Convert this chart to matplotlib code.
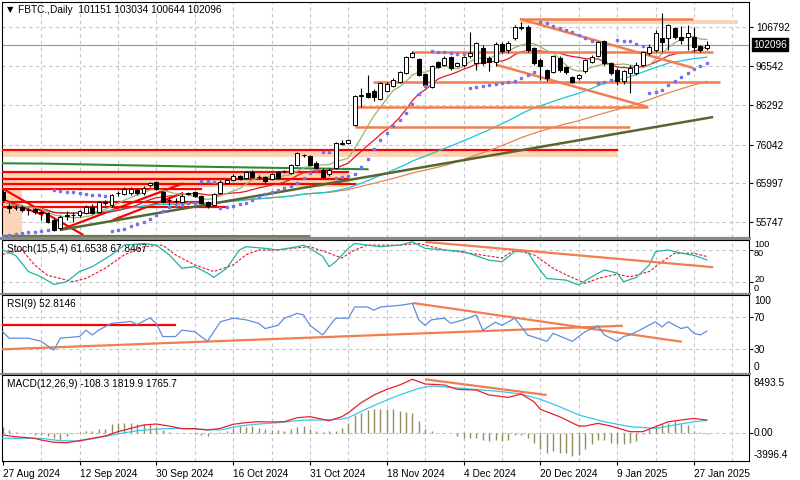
import numpy as np
import pandas as pd
import matplotlib
matplotlib.use("Agg")
import matplotlib.pyplot as plt
from matplotlib.patches import Rectangle

plt.rcParams["font.family"] = ["Liberation Sans", "DejaVu Sans"]
plt.rcParams["font.size"] = 7.3

W, H = 800, 480

# ---- data ----
date_labels = ["27 Aug 2024", "12 Sep 2024", "30 Sep 2024", "16 Oct 2024", "31 Oct 2024",
               "18 Nov 2024", "4 Dec 2024", "20 Dec 2024", "9 Jan 2025", "27 Jan 2025"]
label_bars = [0, 12, 24, 36, 48, 60, 72, 84, 96, 108]

# daily candles, thousands
opens = [63.7, 60.0, 59.5, 59.8, 59.0, 59.2, 58.4, 58.2, 56.4, 54.3,
         57.5, 57.7, 57.7, 58.2, 59.8, 58.5, 61.0, 60.3, 63.3, 63.2,
         63.4, 64.2, 63.4, 65.5, 66.3, 63.7, 61.6, 61.4, 61.1, 63.2,
         63.7, 62.6, 61.1, 60.3, 63.4, 66.0, 66.8, 67.9, 67.3, 68.9,
         67.6, 67.6, 67.1, 68.9, 69.2, 68.6, 70.7, 73.3, 73.1, 71.3,
         69.4, 68.4, 69.9, 76.3, 76.5, 81.2, 88.7, 89.5, 90.0, 87.9,
         90.0, 91.3, 92.4, 94.7, 98.9, 98.4, 94.5, 91.1, 97.6, 96.8,
         98.9, 96.6, 96.8, 99.2, 97.3, 101.2, 98.6, 97.6, 102.3, 100.7,
         103.8, 106.5, 106.7, 101.2, 98.1, 95.5, 95.0, 98.6, 96.3, 93.7,
         93.4, 95.2, 97.6, 99.2, 103.0, 97.4, 95.5, 92.6, 94.7, 94.7,
         96.8, 100.0, 100.7, 103.9, 103.8, 106.4, 104.2, 104.2, 104.2, 101.8, 101.151]
highs = [64.2, 60.5, 60.3, 60.2, 59.5, 59.6, 58.7, 58.5, 56.9, 57.6,
         58.7, 58.5, 59.0, 60.3, 60.5, 61.3, 61.6, 63.2, 64.0, 64.9,
         64.9, 64.6, 65.2, 66.4, 66.6, 64.0, 62.4, 62.0, 63.2, 63.8,
         64.0, 62.9, 61.3, 63.4, 66.8, 67.1, 68.3, 68.1, 69.2, 69.4,
         68.1, 67.9, 68.7, 69.2, 69.5, 71.0, 74.2, 73.6, 73.3, 71.8,
         69.9, 69.9, 76.7, 77.2, 77.5, 89.0, 90.8, 94.2, 90.5, 92.4,
         92.3, 93.4, 95.3, 99.2, 100.5, 98.6, 94.7, 96.8, 97.8, 99.2,
         99.2, 97.6, 99.2, 105.4, 102.8, 102.0, 99.2, 102.8, 102.8, 103.1,
         107.2, 108.0, 107.2, 101.5, 98.6, 95.8, 99.4, 99.2, 96.5, 93.9,
         94.5, 98.4, 99.4, 103.1, 103.4, 97.6, 96.0, 95.5, 96.8, 97.6,
         100.5, 102.3, 106.0, 110.4, 107.5, 106.7, 107.0, 107.2, 106.7, 102.0, 103.034]
lows = [61.0, 58.2, 58.9, 58.5, 57.7, 58.0, 56.4, 55.6, 53.5, 53.9,
        56.4, 55.9, 57.2, 57.9, 57.9, 58.2, 60.3, 59.8, 62.6, 62.9,
        63.0, 63.0, 63.0, 65.0, 64.2, 60.8, 60.3, 60.8, 60.8, 62.9,
        62.4, 60.5, 59.5, 60.0, 63.2, 65.8, 66.5, 66.8, 67.1, 67.3,
        67.1, 66.0, 66.8, 67.1, 68.6, 68.4, 70.5, 72.8, 70.4, 69.5,
        67.3, 67.9, 69.7, 75.9, 76.2, 81.0, 85.8, 88.2, 87.4, 87.7,
        89.8, 91.1, 92.1, 94.5, 98.6, 93.9, 91.3, 90.8, 96.0, 96.5,
        95.5, 96.3, 96.3, 98.6, 95.5, 96.8, 95.2, 96.5, 99.9, 99.9,
        103.3, 105.9, 100.2, 96.8, 92.9, 92.6, 94.7, 95.0, 94.5, 92.1,
        92.9, 94.7, 97.3, 98.9, 96.8, 94.2, 91.6, 91.8, 89.5, 94.2,
        96.5, 99.4, 100.2, 100.3, 100.7, 103.6, 102.3, 100.7, 100.3, 100.2, 100.644]
closes = [61.6, 59.5, 59.6, 59.0, 59.1, 58.5, 58.2, 55.9, 53.8, 57.2,
          57.7, 57.6, 58.7, 59.8, 58.2, 61.1, 60.8, 62.9, 63.5, 64.5,
          64.5, 63.4, 64.7, 66.0, 64.5, 61.1, 61.7, 61.3, 62.6, 63.4,
          62.6, 60.8, 60.0, 63.2, 66.3, 66.8, 67.9, 67.1, 68.9, 67.6,
          67.7, 66.6, 68.4, 67.3, 69.1, 70.7, 73.9, 73.4, 70.7, 69.9,
          67.6, 69.4, 76.5, 76.5, 77.2, 88.7, 88.9, 88.5, 88.5, 92.1,
          91.8, 92.9, 95.0, 98.9, 99.9, 94.2, 91.6, 96.5, 96.3, 98.6,
          96.0, 97.3, 98.9, 99.9, 102.5, 97.3, 97.6, 102.3, 100.5, 102.5,
          106.7, 106.7, 100.7, 97.3, 96.5, 93.4, 99.2, 95.5, 95.0, 92.4,
          94.2, 98.1, 98.9, 102.8, 97.2, 94.6, 92.7, 95.2, 96.0, 96.8,
          100.2, 101.5, 105.2, 102.9, 107.2, 104.2, 103.3, 105.1, 101.6, 100.7, 102.096]

price_ticks = [106792, 96542, 86292, 76042, 65997, 55747]
last_price = 102096
sar_start = 52.2  # first SAR dot, thousands

# chart objects: (bar0, bar1, price in thousands)
red_levels = [(-1, 96, 74.51), (-1, 54, 68.82), (-1, 54, 67.0), (-1, 55, 65.77),
              (-1, 31, 64.39), (-1, 31, 61.16), (-1, 35, 59.85)]
# (bar0, bar1, low, high)
zones = [(-1, 96, 72.81, 74.38), (-1, 54, 65.07, 68.56), (-1, 3, 52.03, 64.21),
         (80.8, 114.9, 107.50, 108.54)]
red_trends = [(-0.1, 64.65, 12.6, 52.47), (8.95, 53.78, 28.2, 65.95),
              (17.2, 56.38, 28.2, 63.43), (-0.1, 61.78, 6.3, 57.68)]
orange_trends = [(80.8, 108.80, 107.9, 108.80), (64, 100.28, 111, 100.28),
                 (57.9, 92.45, 112.1, 92.45), (55.4, 85.93, 100.8, 85.93),
                 (55, 80.71, 98, 80.71), (80.8, 108.80, 107.9, 96.02),
                 (77.2, 96.81, 100.8, 85.85)]
green_bars = [-0.1, 6.9, 30.8, 57.0]
green_prices = [71.17, 71.07, 70.28, 69.61]
olive_trend = (8.95, 53.78, 111, 83.24)
olive_floor = (-0.1, 52.2, 48, 52.1)

# Stochastic(15,5,4)
stoch_k_bars = [0, 2, 4, 6, 8, 10, 12, 14, 17, 19, 22, 24, 26, 28, 30, 32, 33, 35, 37, 38,
                41, 43, 46, 47, 48, 50, 51, 52, 54, 55, 57, 59, 62, 64, 66, 69, 72, 76, 78, 80,
                82, 83, 85, 88, 90, 92, 94, 96, 97, 99, 101, 102, 104, 106, 108, 110]
stoch_k = [80, 70, 40, 30, 16, 21, 40, 49, 71, 89, 92, 89, 71, 46, 49, 37, 29, 46, 80, 86,
           83, 80, 86, 89, 83, 68, 49, 58, 83, 92, 89, 86, 89, 95, 83, 80, 77, 61, 58, 77,
           77, 58, 27, 24, 15, 30, 43, 37, 21, 29, 52, 77, 80, 74, 70, 61.65]
stoch_d_bars = [0, 3, 5, 7, 11, 13, 16, 19, 22, 25, 27, 30, 33, 36, 38, 40, 43, 45, 48, 51,
                53, 55, 57, 62, 65, 69, 73, 78, 80, 83, 86, 88, 91, 93, 96, 98, 101, 103, 105,
                108, 110]
stoch_d = [72, 80, 52, 33, 21, 27, 46, 71, 86, 89, 71, 52, 40, 52, 71, 80, 80, 83, 86, 74,
           65, 80, 89, 89, 92, 80, 74, 65, 80, 71, 46, 34, 18, 27, 35, 30, 40, 58, 74,
           74, 67.85]
stoch_trend = (66, 95, 111, 48)

# RSI(9)
rsi_bars = [0, 1, 4, 6, 8, 9, 12, 13, 14, 15, 17, 19, 20, 21, 23, 24, 25, 27, 28, 30,
            32, 34, 36, 38, 40, 41, 43, 44, 46, 47, 48, 50, 52, 54, 55, 57, 58, 59, 62, 64,
            65, 66, 67, 69, 70, 72, 74, 75, 77, 78, 80, 82, 85, 86, 89, 91, 93, 94, 96, 97,
            98, 100, 102, 103, 104, 106, 107, 108, 109, 110]
rsi = [52, 44, 44, 40, 29, 44, 46, 54, 48, 54, 62.5, 64, 65, 61, 69.5, 62.5, 46, 46, 54, 52,
       40, 64.5, 69, 67, 62.5, 56, 60, 69, 75, 73, 60, 48, 69, 69, 83, 83, 79, 83, 85, 87.5,
       67, 60, 67, 69, 62.5, 67, 73, 54, 64, 60, 69, 48, 40, 50, 40, 52, 59.5, 48, 40, 46,
       48, 56, 64.5, 58, 64.5, 56, 58, 50, 48, 52.8]
rsi_level = (-0.1, 26.9, 60.4)
rsi_trends = [(-0.1, 30, 96.9, 59.5), (64.1, 88, 106.1, 39.5)]

# MACD(12,26,9)
macd_bars = [0, 2, 5, 6, 8, 10, 12, 14, 16, 18, 20, 22, 24, 26, 28, 30, 32, 34, 36, 38,
             40, 42, 44, 46, 48, 50, 51, 53, 54, 56, 58, 60, 62, 64, 66, 69, 71, 74, 76, 79,
             81, 83, 84, 87, 90, 91, 93, 95, 98, 100, 102, 104, 106, 108, 110]
macd_main = [-315, -560, -790, -1030, -1360, -1420, -1130, -790, -460, 160, 630, 1120, 1260,
             970, 590, 590, 400, 630, 1220, 1450, 1590, 1550, 1590, 2160, 2310, 1930, 1730,
             2310, 2880, 4310, 5410, 6220, 6840, 7660, 6990, 6840, 6220, 6120, 5410, 5070,
             5550, 4450, 3360, 2310, 970, 970, 1350, 970, 160, 160, 880, 1590, 1830, 2060, 1820]
signal_bars = [0, 3, 6, 9, 12, 15, 18, 21, 25, 28, 31, 34, 37, 40, 43, 47, 50, 53, 54, 57,
               60, 62, 65, 67, 72, 78, 81, 84, 87, 90, 94, 98, 102, 105, 108, 110]
macd_signal = [-790, -790, -790, -1130, -1170, -700, -170, 300, 590, 630, 490, 400, 970,
               1260, 1450, 1830, 1830, 1970, 2160, 3490, 4690, 5410, 6360, 6700, 6360, 5890,
               5550, 4800, 3740, 2550, 1590, 880, 630, 1120, 1590, 1766]
macd_hist = [790, 400, 50, 30, -30, -300, -300, -500, -800, -1000,
             -400, -200, 100, 200, 300, 500, 600, 1200, 1400, 1400,
             1400, 1300, 1200, 1200, 900, 400, 100, 0, 0, -100,
             -150, -300, -400, -200, 100, 300, 700, 1000, 900, 1000,
             700, 500, 350, 350, 300, 500, 900, 1000, 500, 200,
             100, 200, 300, 700, 1400, 2600, 2900, 3200, 3350, 3450,
             3450, 3350, 3100, 2980, 2870, 1670, 480, 240, 0, 0,
             -100, -480, -720, -720, -720, -1050, -1200, -960, -1200, -960,
             -380, -380, -720, -1430, -2390, -2870, -2630, -2870, -2960, -3350,
             -3250, -2390, -1670, -960, -1050, -1430, -1670, -1670, -1530, -1200,
             -240, 570, 1050, 1200, 1430, 1670, 1200, 1050, 300, 100, -108]
macd_trend = (66, 7660, 85, 5410)

# ---- styling ----
GRID = "#c4c4c4"
ORANGE = "#f47d4d"
RED = "#ff0000"
PEACH = "#fbd5b6"
XLIM = (-0.11, 116.6)


def px_axes(fig, x0, y0, x1, y1):
    return fig.add_axes([x0 / W, 1 - y1 / H, (x1 - x0) / W, (y1 - y0) / H])


def base_style(ax, ylim):
    ax.set_xlim(*XLIM)
    ax.set_ylim(*ylim)
    for s in ax.spines.values():
        s.set_color("black")
        s.set_linewidth(0.8)
    ax.set_xticks([])
    ax.yaxis.tick_right()
    ax.tick_params(axis="y", length=3, pad=2, labelsize=7.3, width=0.8)
    for b in range(6, 117, 6):
        ax.axvline(b, color=GRID, lw=0.8, ls=(0, (3, 3)), zorder=0)


def seg(ax, t, **kw):
    ax.plot([t[0], t[2]], [t[1], t[3]], solid_capstyle="butt", **kw)


def fig_label(fig, px, py, s, size=7.3):
    fig.text(px / W, 1 - py / H, s, va="center", ha="left", fontsize=size)


def parabolic_sar(high, low, start, step=0.02, cap=0.2):
    sar = np.empty(len(high))
    rising, ep, af, s = True, high[0], step, start
    sar[0] = s
    for i in range(1, len(high)):
        s = s + af * (ep - s)
        if rising:
            s = min(s, low[i - 1], low[max(i - 2, 0)])
            if low[i] < s:
                rising, s, ep, af = False, ep, low[i], step
            elif high[i] > ep:
                ep, af = high[i], min(af + step, cap)
        else:
            s = max(s, high[i - 1], high[max(i - 2, 0)])
            if high[i] > s:
                rising, s, ep, af = True, ep, high[i], step
            elif low[i] < ep:
                ep, af = low[i], min(af + step, cap)
        sar[i] = s
    return sar


o, h, l, c = (np.array(v) * 1000 for v in (opens, highs, lows, closes))
bars = np.arange(len(c))

fig = plt.figure(figsize=(W / 100, H / 100), dpi=100)
fig.patch.set_facecolor("white")

# ---------------- main price panel ----------------
ax = px_axes(fig, 2, 2, 749, 237)
base_style(ax, (51945, 113233))
ax.set_yticks(price_ticks)
ax.set_yticklabels([str(p) for p in price_ticks])
for p in price_ticks:
    ax.axhline(p, color=GRID, lw=0.8, ls=(0, (3, 3)), zorder=0)
ax.axhline(last_price, color="#a0a0a0", lw=0.9, zorder=1)

for b0, b1, lo, hi in zones:
    ax.add_patch(Rectangle((b0, lo * 1000), b1 - b0, (hi - lo) * 1000,
                           facecolor=PEACH, edgecolor="none", zorder=1))
for b0, b1, p in red_levels:
    ax.plot([b0, b1], [p * 1000] * 2, color=RED, lw=1.6, zorder=3)
for t in red_trends:
    seg(ax, (t[0], t[1] * 1000, t[2], t[3] * 1000), color=RED, lw=1.6, zorder=3)
ax.plot(green_bars, np.array(green_prices) * 1000, color="#2f8a36", lw=1.5, zorder=3)
seg(ax, (olive_floor[0], olive_floor[1] * 1000, olive_floor[2], olive_floor[3] * 1000),
    color="#6b7a4a", lw=1.8, zorder=3)

close_s = pd.Series(c)
ma_specs = [(70, "#e0874f"), (50, "#18c6d3"), (14, "#e4162a"), (7, "#93b66c")]
for n, col in ma_specs:
    ax.plot(bars, close_s.rolling(n, min_periods=1).mean(), color=col, lw=0.9, zorder=4)

seg(ax, (olive_trend[0], olive_trend[1] * 1000, olive_trend[2], olive_trend[3] * 1000),
    color="#55662f", lw=1.8, zorder=4)
for t in orange_trends:
    seg(ax, (t[0], t[1] * 1000, t[2], t[3] * 1000), color=ORANGE, lw=1.8, zorder=4)

# candles
ax.vlines(bars, l, h, color="black", lw=0.8, zorder=5)
body = np.abs(c - o)
hgt = np.maximum(body, 130)
bottom = np.minimum(o, c) - (hgt - body) / 2
ax.bar(bars, hgt, bottom=bottom, width=0.62,
       color=np.where(c >= o, "white", "black"), edgecolor="black", linewidth=0.7, zorder=6)

sar = parabolic_sar(h, l, sar_start * 1000)
ax.plot(bars, sar, ls="none", marker="s", ms=1.7, color="#7474ee", zorder=7)

ax.text(5 / 747, 1 - 8 / 235, "▼", transform=ax.transAxes, fontsize=6, va="center",
        family=["DejaVu Sans"])
ax.text(16 / 747, 1 - 8 / 235, "FBTC.,Daily  101151 103034 100644 102096",
        transform=ax.transAxes, va="center", fontsize=7.3)
ax.annotate(str(last_price), xy=(1, last_price), xycoords=("axes fraction", "data"),
            xytext=(3, 0), textcoords="offset points", va="center", ha="left",
            color="white", fontsize=7.3,
            bbox=dict(boxstyle="square,pad=0.15", fc="black", ec="black"))

# ---------------- stochastic ----------------
axs = px_axes(fig, 2, 240, 749, 292.5)
base_style(axs, (1, 98.5))
axs.set_yticks([80, 20])
axs.set_yticklabels([])
for lv in (80, 20):
    axs.axhline(lv, color=GRID, lw=0.8, ls=(0, (3, 3)), zorder=0)
axs.plot(stoch_d_bars, stoch_d, color="#e4162a", lw=0.8, ls=(0, (2.5, 1.5)), zorder=3)
axs.plot(stoch_k_bars, stoch_k, color="#20b2a6", lw=0.9, zorder=4)
seg(axs, stoch_trend, color=ORANGE, lw=1.6, zorder=5)
axs.text(5 / 747, 0.82, "Stoch(15,5,4) 61.6538 67.8467", transform=axs.transAxes,
         va="center", fontsize=7.3)
for txt, py in (("100", 244.5), ("80", 253.5), ("20", 279.5), ("0", 288.5)):
    fig_label(fig, 754, py, txt, size=6.6)

# ---------------- RSI ----------------
axr = px_axes(fig, 2, 295, 749, 372.5)
base_style(axr, (1, 98))
axr.set_yticks([70, 30])
axr.set_yticklabels([])
for lv in (70, 30):
    axr.axhline(lv, color=GRID, lw=0.8, ls=(0, (3, 3)), zorder=0)
axr.plot([rsi_level[0], rsi_level[1]], [rsi_level[2]] * 2, color=RED, lw=1.6, zorder=3)
for t in rsi_trends:
    seg(axr, t, color=ORANGE, lw=1.6, zorder=3)
axr.plot(rsi_bars, rsi, color="#5b8ee0", lw=0.9, zorder=4)
axr.text(5 / 747, 1 - 9 / 77.5, "RSI(9) 52.8146", transform=axr.transAxes,
         va="center", fontsize=7.3)
for txt, py in (("100", 301.5), ("70", 318.3), ("30", 350), ("0", 366.5)):
    fig_label(fig, 754, py, txt)

# ---------------- MACD ----------------
axm = px_axes(fig, 2, 375, 749, 461)
base_style(axm, (-4038, 8277))
axm.set_yticks([0])
axm.set_yticklabels([])
axm.axhline(0, color=GRID, lw=0.8, ls=(0, (3, 3)), zorder=0)
axm.vlines(bars, 0, macd_hist, color="#8e8e62", lw=1.0, zorder=2)
axm.plot(signal_bars, macd_signal, color="#3cc6ea", lw=0.9, zorder=3)
axm.plot(macd_bars, macd_main, color="#e8202e", lw=0.9, zorder=4)
seg(axm, macd_trend, color=ORANGE, lw=1.6, zorder=5)
axm.text(5 / 747, 1 - 9 / 86, "MACD(12,26,9) -108.3 1819.9 1765.7", transform=axm.transAxes,
         va="center", fontsize=7.3)
for txt, py in (("8493.5", 383.3), ("0.00", 433.3), ("-3996.4", 455)):
    fig_label(fig, 754, py, txt)

axm.set_xticks(label_bars)
axm.set_xticklabels(date_labels, ha="left")
axm.tick_params(axis="x", length=3, pad=3, labelsize=7.3, width=0.8)

# panel separators
for y0 in (237, 292.5, 372.5):
    h_px = 3 if y0 == 237 else 2.5
    fig.add_artist(Rectangle((0, 1 - (y0 + h_px) / H), 751 / W, h_px / H,
                             transform=fig.transFigure, facecolor="#8a8a8a",
                             edgecolor="none"))

fig.savefig("out.png", dpi=100)
